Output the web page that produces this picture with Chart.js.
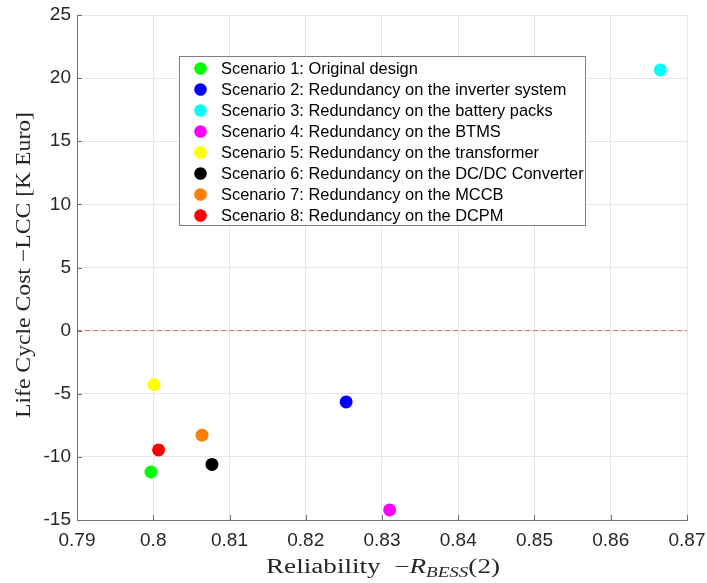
<!DOCTYPE html>
<html>
<head>
<meta charset="utf-8">
<script src="https://cdn.jsdelivr.net/npm/chart.js@4"></script>
<style>
  html, body { margin: 0; padding: 0; background: #fff; }
  #wrap { width: 707px; height: 583px; }
</style>
</head>
<body>
<div id="wrap"><canvas id="lccChart" width="707" height="583"></canvas></div>
<script>
// scenario data
const scenarioLabels = [
  "Scenario 1: Original design",
  "Scenario 2: Redundancy on the inverter system",
  "Scenario 3: Redundancy on the battery packs",
  "Scenario 4: Redundancy on the BTMS",
  "Scenario 5: Redundancy on the transformer",
  "Scenario 6: Redundancy on the DC/DC Converter",
  "Scenario 7: Redundancy on the MCCB",
  "Scenario 8: Redundancy on the DCPM"
];
const reliability = [0.7997, 0.8253, 0.8665, 0.8310, 0.8001, 0.8077, 0.8064, 0.8007];
const lcc = [-11.2, -5.65, 20.65, -14.2, -4.28, -10.6, -8.28, -9.45];
const xTicks = [0.79, 0.80, 0.81, 0.82, 0.83, 0.84, 0.85, 0.86, 0.87];
const yTicks = [-15, -10, -5, 0, 5, 10, 15, 20, 25];

const markerColors = ["#00ff00", "#0000ff", "#00ffff", "#ff00ff", "#ffff00", "#000000", "#ff7f00", "#ff0000"];

const datasets = scenarioLabels.map((label, i) => ({
  label: label,
  data: [{ x: reliability[i], y: lcc[i] }],
  backgroundColor: markerColors[i],
  borderColor: markerColors[i],
  pointRadius: 6.5,
  pointBorderWidth: 0,
}));

// zero line (dashed red)
datasets.push({
  label: "zero",
  type: "line",
  showLine: true,
  data: [{ x: xTicks[0], y: 0 }, { x: xTicks[xTicks.length - 1], y: 0 }],
  borderColor: "rgba(255,0,0,0.6)",
  backgroundColor: "rgba(255,0,0,0.6)",
  borderWidth: 1,
  borderDash: [5, 3],
  pointRadius: 0,
  fill: false,
});

// legend box drawn inside the plot area, MATLAB style
const insideLegend = {
  id: "insideLegend",
  afterDatasetsDraw(chart) {
    const ctx = chart.ctx;
    const left = 179.5, top = 56.5, right = 585.5, bottom = 225.5;
    ctx.save();
    ctx.setLineDash([]);
    ctx.fillStyle = "#fff";
    ctx.fillRect(left, top, right - left, bottom - top);
    ctx.strokeStyle = "#808080";
    ctx.lineWidth = 1;
    ctx.strokeRect(left, top, right - left, bottom - top);
    ctx.font = "16.4px 'Liberation Sans', Arial, sans-serif";
    ctx.textBaseline = "middle";
    scenarioLabels.forEach((label, i) => {
      const y = 68.5 + i * 21;
      ctx.beginPath();
      ctx.fillStyle = markerColors[i];
      ctx.arc(200.5, y, 6.3, 0, Math.PI * 2);
      ctx.fill();
      ctx.fillStyle = "#000";
      ctx.fillText(label, 221, y + 1);
    });
    ctx.restore();
  }
};

// inward tick marks like MATLAB
const innerTicks = {
  id: "innerTicks",
  afterDatasetsDraw(chart) {
    const ctx = chart.ctx;
    const a = chart.chartArea;
    const xs = chart.scales.x, ys = chart.scales.y;
    ctx.save();
    ctx.setLineDash([]);
    ctx.strokeStyle = "#707070";
    ctx.lineWidth = 1;
    ctx.beginPath();
    xTicks.forEach((v) => {
      const px = Math.round(xs.getPixelForValue(v)) + 0.5;
      ctx.moveTo(px, a.bottom); ctx.lineTo(px, a.bottom - 5);
    });
    yTicks.forEach((v) => {
      const py = Math.round(ys.getPixelForValue(v)) + 0.5;
      ctx.moveTo(a.left, py); ctx.lineTo(a.left + 5, py);
    });
    ctx.stroke();
    ctx.restore();
  }
};

// axis titles, serif, with the italic subscript in the x title
const axisTitles = {
  id: "axisTitles",
  afterDraw(chart) {
    const ctx = chart.ctx;
    const serif = "'Liberation Serif', 'DejaVu Serif', serif";
    ctx.save();
    ctx.fillStyle = "#262626";
    ctx.textBaseline = "alphabetic";

    // x title
    const parts = [
      { t: "Reliability  \u2212", f: "20px " + serif, dy: 0 },
      { t: "R", f: "italic 20px " + serif, dy: 0 },
      { t: "BESS", f: "italic 14px " + serif, dy: 4 },
      { t: "(2)", f: "20px " + serif, dy: 0 },
    ];
    let total = 0;
    parts.forEach((p) => { ctx.font = p.f; p.w = ctx.measureText(p.t).width; total += p.w; });
    const targetW = 234, cx = 383, base = 573;
    ctx.save();
    ctx.translate(cx - targetW / 2, base);
    ctx.scale(targetW / total, 1);
    let x = 0;
    parts.forEach((p) => { ctx.font = p.f; ctx.fillText(p.t, x, p.dy); x += p.w; });
    ctx.restore();

    // y title
    const yt = "Life Cycle Cost \u2212LCC [K Euro]";
    ctx.font = "21px " + serif;
    const w = ctx.measureText(yt).width;
    const targetH = 306, cy = 265;
    ctx.save();
    ctx.translate(30, cy);
    ctx.rotate(-Math.PI / 2);
    ctx.scale(targetH / w, 1);
    ctx.textAlign = "center";
    ctx.fillText(yt, 0, 0);
    ctx.restore();

    ctx.restore();
  }
};

new Chart(document.getElementById("lccChart"), {
  type: "scatter",
  data: { datasets: datasets },
  options: {
    responsive: false,
    animation: false,
    layout: { autoPadding: false, padding: { top: 15, right: 20, bottom: 0, left: 0 } },
    plugins: {
      legend: { display: false },
      tooltip: { enabled: false },
    },
    scales: {
      x: {
        type: "linear",
        min: xTicks[0],
        max: xTicks[xTicks.length - 1],
        afterBuildTicks: (scale) => { scale.ticks = xTicks.map((v) => ({ value: v })); },
        afterFit: (scale) => { scale.height = 63; scale.paddingLeft = 0; scale.paddingRight = 0; },
        ticks: {
          color: "#262626",
          font: { family: "'Liberation Sans', Arial, sans-serif", size: 19 },
          padding: 9,
          maxRotation: 0,
          callback: (v) => String(Number(v.toFixed(2))),
        },
        grid: { color: "#e6e6e6", drawTicks: false },
        border: { color: "#707070", width: 1 },
      },
      y: {
        min: yTicks[0],
        max: yTicks[yTicks.length - 1],
        afterBuildTicks: (scale) => { scale.ticks = yTicks.map((v) => ({ value: v })); },
        afterFit: (scale) => { scale.width = 77; scale.paddingTop = 0; scale.paddingBottom = 0; },
        ticks: {
          color: "#262626",
          font: { family: "'Liberation Sans', Arial, sans-serif", size: 19 },
          padding: 6,
        },
        grid: { color: "#e6e6e6", drawTicks: false },
        border: { color: "#707070", width: 1 },
      },
    },
  },
  plugins: [innerTicks, insideLegend, axisTitles],
});
</script>
</body>
</html>
